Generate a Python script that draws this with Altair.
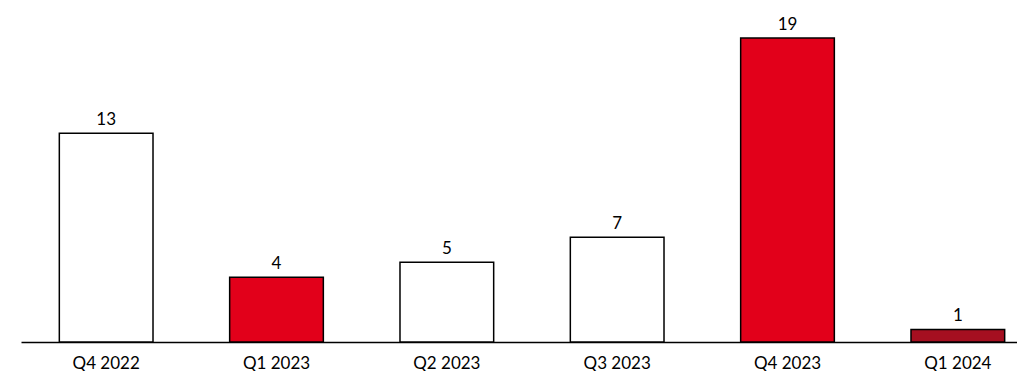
import altair as alt
import pandas as pd

quarters = ["Q4 2022", "Q1 2023", "Q2 2023", "Q3 2023", "Q4 2023", "Q1 2024"]
values = [13.05, 4.05, 4.98, 6.55, 19.0, 0.78]
colors = ["#FFFFFF", "#E2001A", "#FFFFFF", "#FFFFFF", "#E2001A", "#A50F20"]

df = pd.DataFrame({"quarter": quarters, "value": values, "color": colors})

FONT = "Lato"

x = alt.X("quarter:N", sort=quarters, title=None,
          scale=alt.Scale(range=[0, 1022], paddingInner=0.45, paddingOuter=0.225, round=False),
          axis=alt.Axis(labelAngle=0, ticks=False, domainColor="#000000", domainWidth=1.5,
                        labelFont=FONT, labelFontSize=17, labelColor="#000000",
                        labelBaseline="alphabetic", labelPadding=26))
y = alt.Y("value:Q", title=None, scale=alt.Scale(domain=[0, 20.875], nice=False),
          axis=None)

bars = alt.Chart(df).mark_bar(stroke="#000000", strokeWidth=1.5).encode(
    x=x, y=y, color=alt.Color("color:N", scale=None))

labels = alt.Chart(df).mark_text(baseline="alphabetic", dy=-8.5, font=FONT, fontSize=17,
                                 color="#000000").encode(
    x=x, y=y, text=alt.Text("value:Q", format=".0f"))

chart = (bars + labels).properties(
    width=996, height=334,
    autosize=alt.AutoSizeParams(type="none"),
    padding={"left": 13, "top": 0, "right": 0, "bottom": 29},
).configure_view(stroke=None)

chart.save("out.html", embed_options={"renderer": "svg", "actions": False})
